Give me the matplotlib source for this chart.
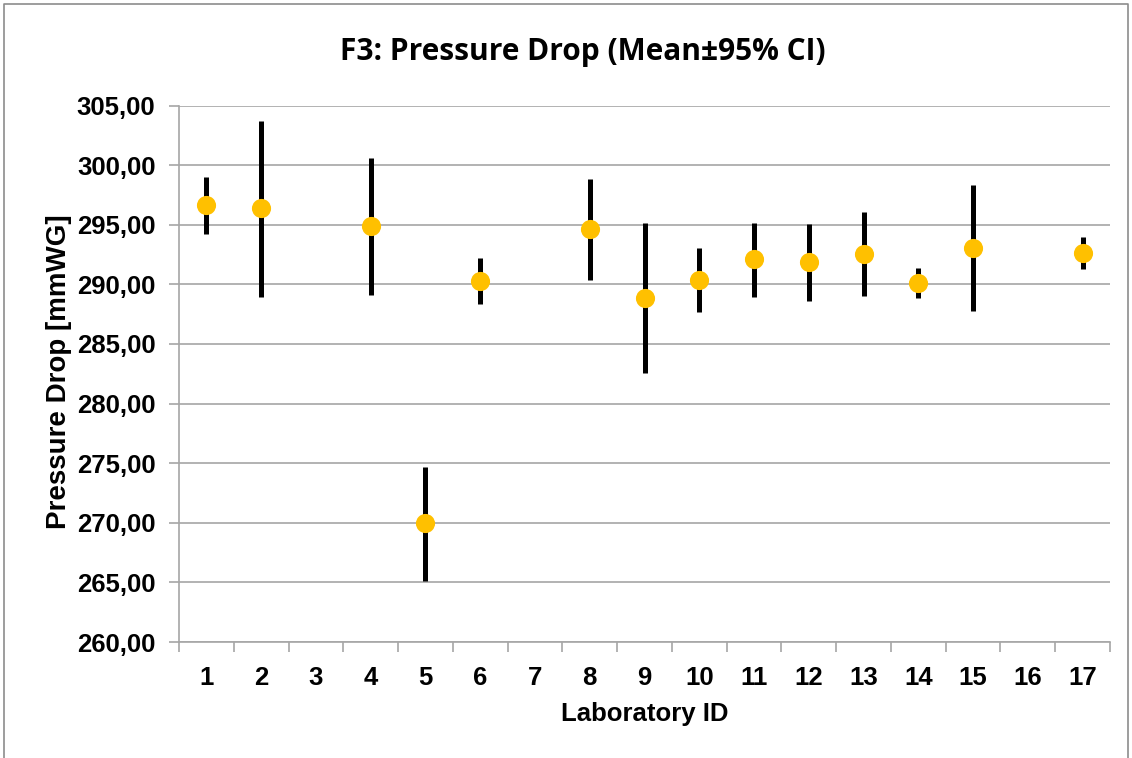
import matplotlib.pyplot as plt
import numpy as np
from matplotlib.lines import Line2D
from matplotlib.ticker import FuncFormatter, MultipleLocator

# lab ids on the category axis (3, 7 and 16 have no result)
labs = ['1', '2', '3', '4', '5', '6', '7', '8', '9', '10',
        '11', '12', '13', '14', '15', '16', '17']
mean = [296.65, 296.37, np.nan, 294.86, 269.95, 290.28, np.nan, 294.61, 288.85,
        290.33, 292.09, 291.84, 292.57, 290.11, 293.05, np.nan, 292.63]
ci_low = [294.22, 288.96, np.nan, 289.07, 265.13, 288.32, np.nan, 290.33, 282.59,
          287.65, 288.93, 288.60, 289.02, 288.88, 287.76, np.nan, 291.28]
ci_high = [299.03, 303.73, np.nan, 300.62, 274.70, 292.23, np.nan, 298.81, 295.12,
           293.02, 295.17, 295.06, 296.09, 291.34, 298.30, np.nan, 293.97]

mean = np.array(mean)
err = [mean - np.array(ci_low), np.array(ci_high) - mean]
x = np.arange(1, len(labs) + 1)

grid_col = '#a6a6a6'
fs = 18.5
tick_font = dict(family='Liberation Sans', weight='bold', size=fs)

fig = plt.figure(figsize=(11.32, 7.58), dpi=100)
ax = fig.add_axes([179 / 1132, 1 - 642 / 758, (1110 - 179) / 1132, (642 - 105.5) / 758])

ax.errorbar(x, mean, yerr=err, fmt='none', ecolor='black', elinewidth=3.6,
            capsize=0, zorder=3)
ax.plot(x, mean, 'o', color='#ffc000', markersize=13.8, markeredgewidth=0, zorder=4)

ax.set_xlim(0.5, len(labs) + 0.5)
ax.set_ylim(260, 305)
ax.yaxis.set_major_locator(MultipleLocator(5))
ax.yaxis.set_major_formatter(FuncFormatter(lambda v, p: f'{v:.2f}'.replace('.', ',')))
ax.set_xticks(x)
ax.set_xticklabels(labs)
ax.set_xticks(np.arange(0.5, len(labs) + 1), minor=True)
ax.tick_params(axis='x', which='major', length=0, pad=17)
ax.tick_params(axis='x', which='minor', length=7, color=grid_col, width=1.2)
ax.tick_params(axis='y', length=7, color=grid_col, width=1.2, pad=10)
for lab in ax.get_xticklabels() + ax.get_yticklabels():
    lab.set_fontproperties(tick_font)

ax.grid(axis='y', color=grid_col, linewidth=1.2)
ax.set_axisbelow(True)
for s in ['top', 'right']:
    ax.spines[s].set_visible(False)
for s in ['left', 'bottom']:
    ax.spines[s].set_color(grid_col)
    ax.spines[s].set_linewidth(1.2)

ax.set_xlabel('Laboratory ID', fontfamily='Liberation Sans', fontweight='bold',
              fontsize=fs)
ax.xaxis.set_label_coords(0.5, 1 - (714 - 105.5) / (642 - 105.5), transform=ax.transAxes)
ax.xaxis.label.set_va('center')
ax.set_ylabel('Pressure Drop [mmWG]', fontfamily='Liberation Sans', fontweight='bold',
              fontsize=20)
ax.yaxis.set_label_coords(-(179 - 59) / (1110 - 179), 1 - (371.5 - 105.5) / (642 - 105.5),
                          transform=ax.transAxes)
ax.yaxis.label.set_va('center')
fig.text(583 / 1132, 1 - 52 / 758, 'F3: Pressure Drop (Mean\u00b195% CI)', ha='center',
         va='center', fontfamily='Open Sans', fontweight='bold', fontsize=21.5)

# chart area border
bx = [4 / 1132, 4 / 1132, 1128 / 1132, 1128 / 1132]
by = [0, 1 - 4 / 758, 1 - 4 / 758, 0]
fig.add_artist(Line2D(bx, by, color='#8c8c8c', linewidth=1.2))

fig.savefig('out.png', dpi=100)
